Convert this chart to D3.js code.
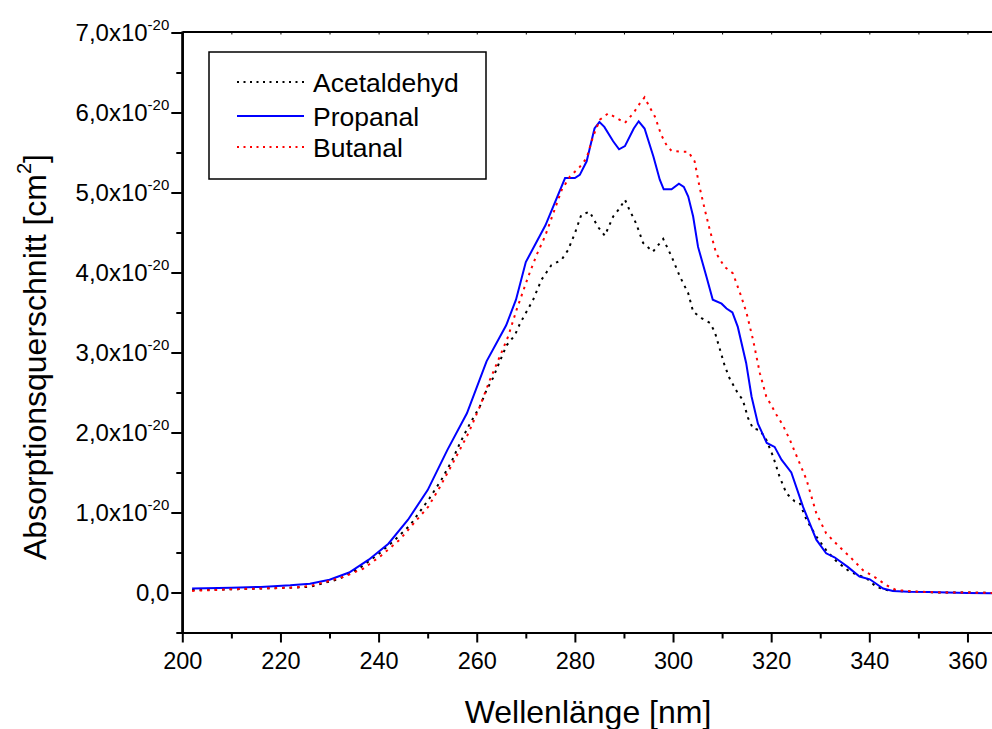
<!DOCTYPE html>
<html>
<head>
<meta charset="utf-8">
<script src="https://cdn.jsdelivr.net/npm/d3@7"></script>
<style>
  html, body { margin: 0; padding: 0; background: #fff; }
  svg { display: block; font-family: "Liberation Sans", Arial, sans-serif; }
</style>
</head>
<body>
<svg id="chart" width="992" height="729"></svg>
<script>
// ---------------- DATA ----------------
const seriesNames = ["Acetaldehyd", "Propanal", "Butanal"];

const acetaldehydX = [202, 210, 216, 222, 226, 232, 236, 240, 243, 246.4, 250.4, 252.8, 254.9, 256.6, 258.6, 260.6, 262, 263.3, 264.7, 266.1, 267.8, 268.8, 271.5, 273.2, 275.2, 277.3, 278.6, 280, 281.3, 283, 284.7, 286.1, 287.8, 289.1, 290.2, 291, 292.5, 293.9, 295.9, 298, 299.7, 301.4, 303.1, 304.1, 305.8, 307.5, 308.5, 309.5, 310.5, 311.5, 313.2, 314.2, 315.3, 316.3, 317.7, 319, 320.4, 321.7, 323.1, 324.8, 325.8, 327.2, 329.2, 331.2, 333.3, 336, 339.4, 341.4, 343.5, 348, 355, 360, 365];
const acetaldehydY = [0.03, 0.04, 0.05, 0.06, 0.07, 0.17, 0.30, 0.48, 0.64, 0.84, 1.18, 1.41, 1.64, 1.87, 2.11, 2.32, 2.53, 2.68, 2.89, 3.09, 3.22, 3.36, 3.66, 3.91, 4.09, 4.16, 4.28, 4.49, 4.72, 4.76, 4.57, 4.46, 4.70, 4.80, 4.91, 4.80, 4.61, 4.37, 4.26, 4.42, 4.20, 3.95, 3.74, 3.51, 3.43, 3.37, 3.26, 3.05, 2.84, 2.68, 2.49, 2.41, 2.18, 2.05, 2.03, 1.91, 1.70, 1.45, 1.24, 1.14, 1.12, 0.91, 0.70, 0.53, 0.39, 0.26, 0.18, 0.07, 0.03, 0.01, 0.0, 0.0, -0.005];

const propanalX = [202, 210, 216, 222, 226, 230, 234, 238, 242, 246, 250, 254, 258, 262, 266, 268, 270, 274, 278, 280, 281, 282.4, 284, 285, 286, 287.8, 289, 290.2, 292, 293, 294.2, 296, 297.3, 298.1, 299.7, 301.2, 302.2, 303.1, 304.1, 305.1, 306.8, 308.1, 309.9, 310.9, 312.1, 313.2, 314.9, 316, 317.3, 319.1, 320.7, 322.1, 324.1, 326.5, 329.2, 331.2, 332.9, 335.6, 338, 340.1, 342.8, 344.8, 348, 352, 356, 360, 365];
const propanalY = [0.05, 0.06, 0.07, 0.09, 0.11, 0.16, 0.25, 0.41, 0.61, 0.91, 1.28, 1.78, 2.24, 2.89, 3.34, 3.66, 4.13, 4.59, 5.18, 5.18, 5.22, 5.39, 5.80, 5.88, 5.82, 5.64, 5.54, 5.58, 5.80, 5.89, 5.80, 5.45, 5.16, 5.04, 5.04, 5.11, 5.07, 4.95, 4.70, 4.32, 3.95, 3.66, 3.61, 3.55, 3.50, 3.32, 2.87, 2.45, 2.11, 1.87, 1.82, 1.66, 1.50, 1.07, 0.66, 0.49, 0.44, 0.32, 0.20, 0.165, 0.05, 0.02, 0.01, 0.005, 0.0, -0.005, -0.01];

const butanalX = [202, 210, 216, 222, 226, 229.4, 233.1, 236.9, 240.3, 244.3, 247.1, 250.1, 252.5, 255.5, 258.3, 260.6, 262.7, 264.7, 266.4, 268.1, 270.5, 272.2, 273.9, 275.6, 277.3, 279, 281, 282.4, 283.7, 285.1, 286.8, 288.5, 290.2, 291.9, 293.2, 294.2, 295.2, 296.3, 297.6, 298.7, 299.7, 301.4, 303.1, 304.4, 305.4, 306.5, 307.5, 308.8, 310.5, 312.2, 313.9, 315, 316.3, 317.7, 319, 321.1, 322.4, 323.8, 325.5, 327.2, 329.2, 331.2, 333.9, 336, 338.7, 341.4, 343.5, 345.5, 350, 355, 360, 365];
const butanalY = [0.02, 0.04, 0.05, 0.06, 0.08, 0.135, 0.20, 0.30, 0.45, 0.66, 0.86, 1.07, 1.32, 1.66, 1.99, 2.32, 2.66, 2.95, 3.20, 3.53, 3.95, 4.22, 4.45, 4.74, 5.03, 5.20, 5.32, 5.43, 5.70, 5.91, 5.99, 5.93, 5.87, 5.99, 6.11, 6.19, 6.07, 5.95, 5.72, 5.59, 5.52, 5.51, 5.51, 5.39, 5.07, 4.78, 4.53, 4.24, 4.07, 3.99, 3.70, 3.49, 3.16, 2.74, 2.45, 2.22, 2.09, 1.91, 1.66, 1.41, 0.99, 0.74, 0.57, 0.45, 0.28, 0.18, 0.09, 0.03, 0.01, 0.0, 0.0, -0.005];

const xMajorTicks = [200, 220, 240, 260, 280, 300, 320, 340, 360];
const xMinorTicks = [210, 230, 250, 270, 290, 310, 330, 350];
const yMajorTicks = [0, 1, 2, 3, 4, 5, 6, 7];
const yMinorTicks = [-0.5, 0.5, 1.5, 2.5, 3.5, 4.5, 5.5, 6.5];
const yTickLabels = ["0,0", "1,0x10", "2,0x10", "3,0x10", "4,0x10", "5,0x10", "6,0x10", "7,0x10"];
const yTickExp = ["", "-20", "-20", "-20", "-20", "-20", "-20", "-20"];

const xTitle = "Wellenlänge [nm]";
const yTitle = "Absorptionsquerschnitt [cm";

// ---------------- CHART ----------------
const svg = d3.select("#chart");
const x = d3.scaleLinear().domain([200, 365]).range([182.3, 992]);
const y = d3.scaleLinear().domain([-0.5, 7]).range([632.5, 32.5]);

const series = [
  { name: seriesNames[0], xs: acetaldehydX, ys: acetaldehydY, color: "#000000", dash: "2.5,5" },
  { name: seriesNames[1], xs: propanalX, ys: propanalY, color: "#0000ff", dash: null },
  { name: seriesNames[2], xs: butanalX, ys: butanalY, color: "#ff0000", dash: "2.5,5" }
];

const line = d3.line().x(d => x(d[0])).y(d => y(d[1]));

const plot = svg.append("g");
series.forEach(s => {
  const pts = s.xs.map((v, i) => [v, s.ys[i]]);
  plot.append("path")
    .attr("d", line(pts))
    .attr("fill", "none")
    .attr("stroke", s.color)
    .attr("stroke-width", 2)
    .attr("stroke-dasharray", s.dash);
});

function styleAxis(g) {
  g.selectAll("path.domain").attr("stroke", "#000").attr("stroke-width", 2);
  g.selectAll(".tick line").attr("stroke", "#000").attr("stroke-width", 2);
}

// bottom axis
const bottomY = y(-0.5);
const gB = svg.append("g").attr("transform", `translate(0,${bottomY})`)
  .call(d3.axisBottom(x).tickValues(xMajorTicks).tickSize(10).tickSizeOuter(0).tickFormat(d3.format("d")));
styleAxis(gB);
gB.selectAll(".tick text").attr("font-size", 23.5).attr("font-family", "Liberation Sans, Arial, sans-serif").attr("fill", "#000").attr("dy", "1.0em");
const gBm = svg.append("g").attr("transform", `translate(0,${bottomY})`)
  .call(d3.axisBottom(x).tickValues(xMinorTicks).tickSize(6).tickSizeOuter(0).tickFormat(""));
styleAxis(gBm);

// top axis
const topY = y(7) - 1;
const gT = svg.append("g").attr("transform", `translate(0,${topY})`)
  .call(d3.axisBottom(x).tickValues(xMajorTicks.concat(xMinorTicks)).tickSize(3).tickSizeOuter(0).tickFormat(""));
styleAxis(gT);
gT.selectAll(".tick line").attr("stroke-width", 1);

// left axis
const gL = svg.append("g").attr("transform", `translate(${x(200)},0)`)
  .call(d3.axisLeft(y).tickValues(yMajorTicks).tickSize(11).tickSizeOuter(0).tickFormat(""));
styleAxis(gL);
const gLm = svg.append("g").attr("transform", `translate(${x(200)},0)`)
  .call(d3.axisLeft(y).tickValues(yMinorTicks).tickSize(6).tickSizeOuter(0).tickFormat(""));
styleAxis(gLm);
svg.append("line").attr("x1", x(200)).attr("x2", x(200)).attr("y1", topY).attr("y2", bottomY)
  .attr("stroke", "#000").attr("stroke-width", 2);

// y tick labels
const yl = svg.append("g").attr("font-size", 24).attr("fill", "#000");
yMajorTicks.forEach((v, i) => {
  const t = yl.append("text")
    .attr("x", x(200) - 13)
    .attr("y", y(v))
    .attr("dy", "0.36em")
    .attr("text-anchor", "end");
  t.append("tspan").text(yTickLabels[i]);
  if (yTickExp[i]) {
    t.append("tspan").attr("font-size", 15).attr("dy", "-0.75em").text(yTickExp[i]);
  }
});

// axis titles
svg.append("text")
  .attr("x", 588).attr("y", 723)
  .attr("text-anchor", "middle")
  .attr("font-size", 32)
  .attr("fill", "#000")
  .text(xTitle);

const yt = svg.append("text")
  .attr("transform", "translate(46,357) rotate(-90)")
  .attr("text-anchor", "middle")
  .attr("font-size", 32)
  .attr("fill", "#000");
yt.append("tspan").text(yTitle);
yt.append("tspan").attr("font-size", 20).attr("dy", "-0.75em").text("2");
yt.append("tspan").attr("dy", "0.47em").text("]");

// legend
const lg = svg.append("g");
lg.append("rect").attr("x", 209).attr("y", 52).attr("width", 277).attr("height", 127)
  .attr("fill", "#fff").attr("stroke", "#000").attr("stroke-width", 1.5);
const legendRows = [82, 116, 147];
series.forEach((s, i) => {
  lg.append("line")
    .attr("x1", 237).attr("x2", 304)
    .attr("y1", legendRows[i]).attr("y2", legendRows[i])
    .attr("stroke", s.color).attr("stroke-width", 2)
    .attr("stroke-dasharray", s.dash ? "2,4.5" : null);
  lg.append("text")
    .attr("x", 313).attr("y", legendRows[i])
    .attr("dy", "0.36em")
    .attr("font-size", 26.5)
    .attr("fill", "#000")
    .text(s.name);
});
</script>
</body>
</html>
